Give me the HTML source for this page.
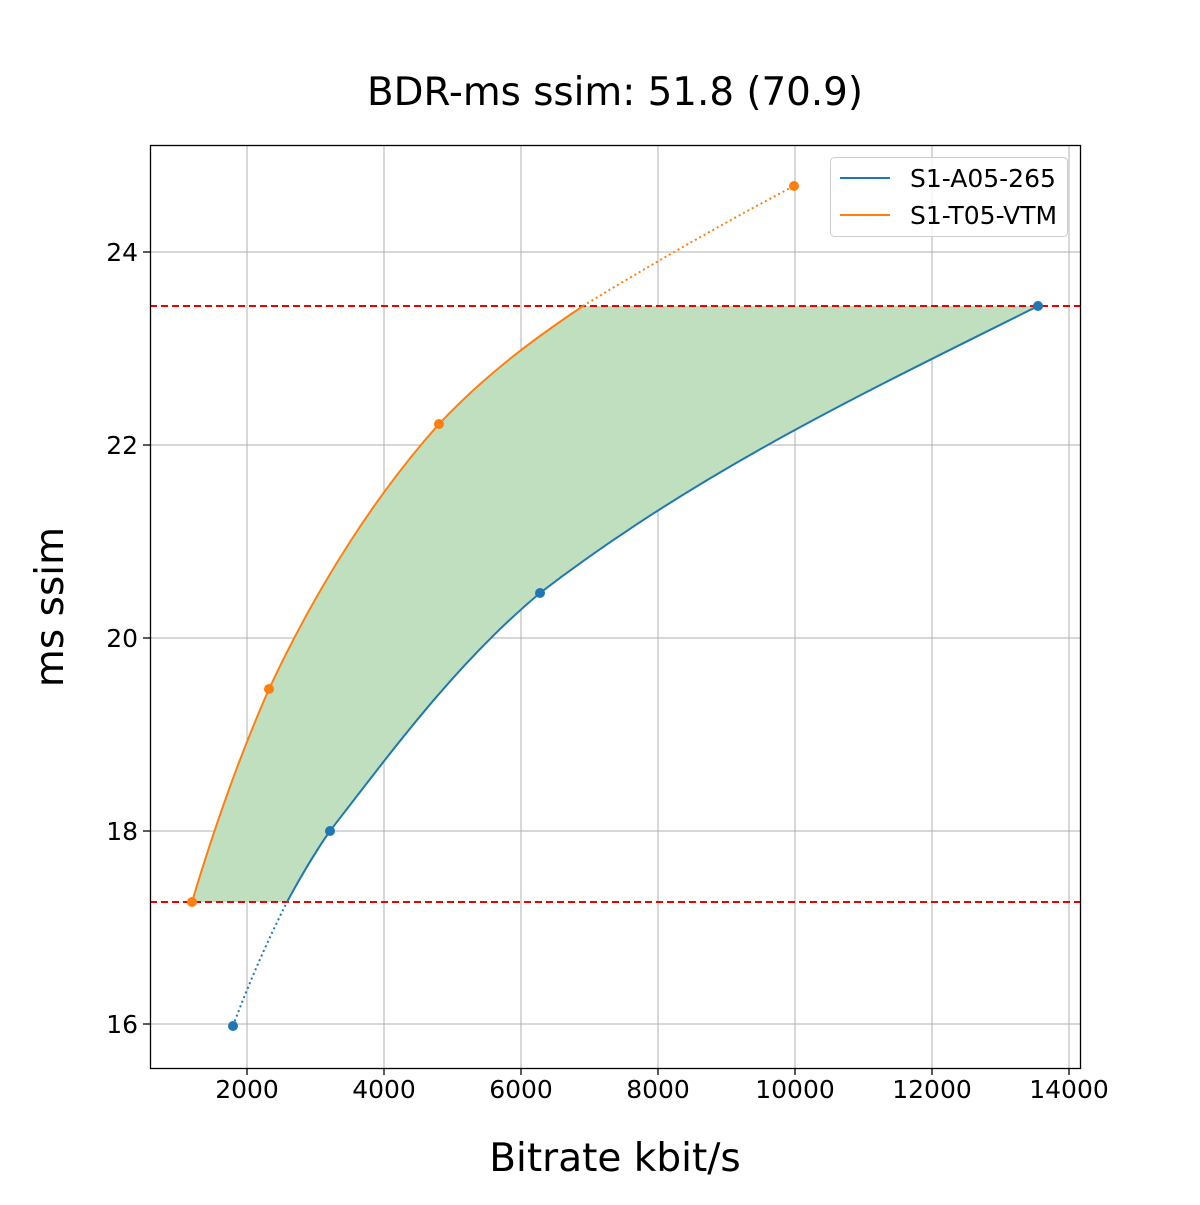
<!DOCTYPE html>
<html><head><meta charset="utf-8"><style>body{margin:0;background:#fff}</style></head><body>
<svg width="1200" height="1200" xmlns="http://www.w3.org/2000/svg" font-family="DejaVu Sans, Liberation Sans, sans-serif">
<rect width="1200" height="1200" fill="#fff"/>
<text x="615" y="105" font-size="38.8" text-anchor="middle">BDR-ms ssim: 51.8 (70.9)</text>
<g stroke="#b0b0b0" stroke-width="1">
<line x1="247" y1="145" x2="247" y2="1068"/><line x1="384" y1="145" x2="384" y2="1068"/><line x1="521" y1="145" x2="521" y2="1068"/><line x1="658" y1="145" x2="658" y2="1068"/><line x1="795" y1="145" x2="795" y2="1068"/><line x1="932" y1="145" x2="932" y2="1068"/><line x1="1069" y1="145" x2="1069" y2="1068"/>
<line x1="150" y1="252" x2="1080" y2="252"/><line x1="150" y1="445" x2="1080" y2="445"/><line x1="150" y1="638" x2="1080" y2="638"/><line x1="150" y1="831" x2="1080" y2="831"/><line x1="150" y1="1024" x2="1080" y2="1024"/>
</g>
<path d="M192,902 C215,825 240,755 269,689 C320,580 380,490 439,424 C490,370 540,335 583,306 L1038,306 C870,390 700,470 540,593 C460,660 400,740 330,831 L287,902 Z" fill="#bfdfbf"/>
<g stroke="#e00" stroke-width="2" stroke-dasharray="7,4"><line x1="150" y1="306" x2="1080" y2="306"/><line x1="150" y1="902" x2="1080" y2="902"/></g>
<g fill="none" stroke-width="2">
<path d="M287,902 C300,878 313,855 330,831 C400,740 460,660 540,593 C700,470 870,390 1038,306" stroke="#1f77b4"/>
<path d="M233,1026 C250,980 268,940 287,902" stroke="#1f77b4" stroke-dasharray="2,3"/>
<path d="M192,902 C215,825 240,755 269,689 C320,580 380,490 439,424 C490,370 540,335 583,306" stroke="#ff7f0e"/>
<path d="M583,306 C650,265 720,225 794,186" stroke="#ff7f0e" stroke-dasharray="2,3"/>
</g>
<g fill="#1f77b4"><circle cx="233" cy="1026" r="5"/><circle cx="330" cy="831" r="5"/><circle cx="540" cy="593" r="5"/><circle cx="1038" cy="306" r="5"/></g>
<g fill="#ff7f0e"><circle cx="192" cy="902" r="5"/><circle cx="269" cy="689" r="5"/><circle cx="439" cy="424" r="5"/><circle cx="794" cy="186" r="5"/></g>
<rect x="150.5" y="145.5" width="930" height="923" fill="none" stroke="#000" stroke-width="1.3"/>
<g stroke="#000" stroke-width="1.3">
<line x1="247" y1="1068" x2="247" y2="1075"/><line x1="384" y1="1068" x2="384" y2="1075"/><line x1="521" y1="1068" x2="521" y2="1075"/><line x1="658" y1="1068" x2="658" y2="1075"/><line x1="795" y1="1068" x2="795" y2="1075"/><line x1="932" y1="1068" x2="932" y2="1075"/><line x1="1069" y1="1068" x2="1069" y2="1075"/>
<line x1="143" y1="252" x2="150" y2="252"/><line x1="143" y1="445" x2="150" y2="445"/><line x1="143" y1="638" x2="150" y2="638"/><line x1="143" y1="831" x2="150" y2="831"/><line x1="143" y1="1024" x2="150" y2="1024"/>
</g>
<g font-size="25" text-anchor="middle">
<text x="247" y="1098">2000</text><text x="384" y="1098">4000</text><text x="521" y="1098">6000</text><text x="658" y="1098">8000</text><text x="795" y="1098">10000</text><text x="932" y="1098">12000</text><text x="1069" y="1098">14000</text>
</g>
<g font-size="25" text-anchor="end">
<text x="138" y="261">24</text><text x="138" y="454">22</text><text x="138" y="647">20</text><text x="138" y="840">18</text><text x="138" y="1033">16</text>
</g>
<text x="615" y="1171" font-size="39" text-anchor="middle">Bitrate kbit/s</text>
<text transform="translate(63,607) rotate(-90)" font-size="39" text-anchor="middle">ms ssim</text>
<rect x="830.5" y="157.5" width="237" height="79" rx="4" fill="#fff" fill-opacity="0.8" stroke="#ccc"/>
<line x1="840" y1="178" x2="890" y2="178" stroke="#1f77b4" stroke-width="2"/>
<line x1="840" y1="215" x2="890" y2="215" stroke="#ff7f0e" stroke-width="2"/>
<text x="910" y="187" font-size="25">S1-A05-265</text>
<text x="910" y="224" font-size="25">S1-T05-VTM</text>
</svg>
</body></html>
